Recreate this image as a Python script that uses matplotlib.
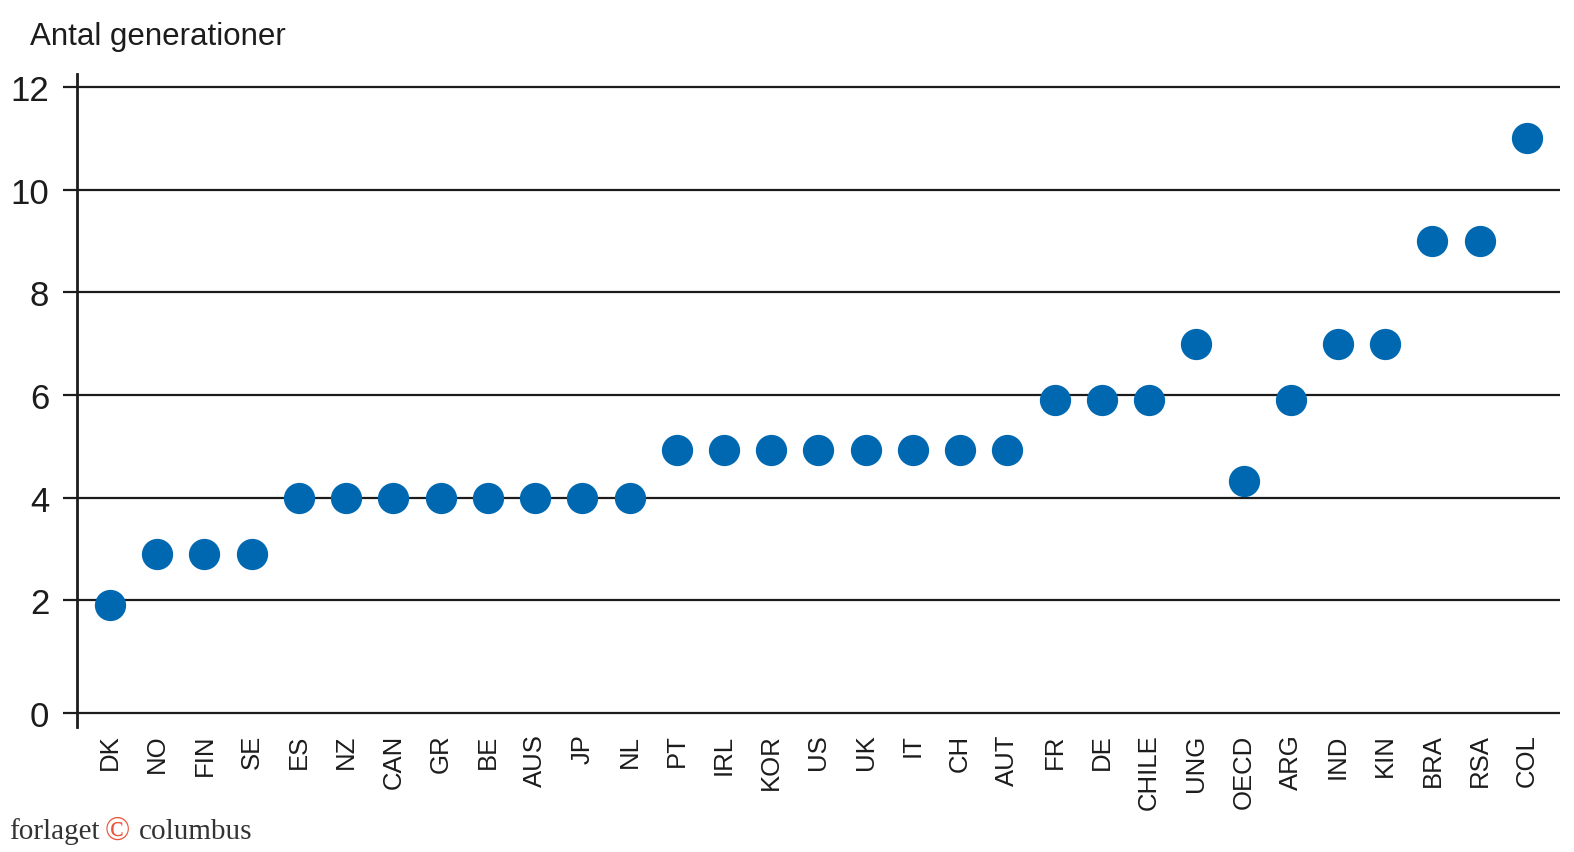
import matplotlib
matplotlib.use('Agg')
import matplotlib.pyplot as plt
import numpy as np

countries = ['DK', 'NO', 'FIN', 'SE', 'ES', 'NZ', 'CAN', 'GR', 'BE', 'AUS', 'JP', 'NL',
             'PT', 'IRL', 'KOR', 'US', 'UK', 'IT', 'CH', 'AUT',
             'FR', 'DE', 'CHILE', 'UNG', 'OECD', 'ARG', 'IND', 'KIN', 'BRA', 'RSA', 'COL']
generations = [1.9, 2.9, 2.9, 2.9, 4.0, 4.0, 4.0, 4.0, 4.0, 4.0, 4.0, 4.0,
               4.93, 4.93, 4.93, 4.93, 4.93, 4.93, 4.93, 4.93,
               5.9, 5.9, 5.9, 7.0, 4.33, 5.9, 7.0, 7.0, 9.0, 9.0, 11.0]
ytick_labels = ['0', '2', '4', '6', '8', '10', '12']

sans = ['Liberation Sans Narrow', 'Liberation Sans', 'DejaVu Sans']
serif = ['Liberation Serif', 'DejaVu Serif']
dot_color = '#0068b1'
line_color = '#1c1c1c'
baseline = -0.2

fig = plt.figure(figsize=(15.74, 8.53), dpi=100)
ax = fig.add_axes([0.0489, 0.147, 0.9422, 0.7656])

x = np.arange(len(countries))
ax.plot(x, generations, 'o', ms=21.5, color=dot_color, zorder=3)

ax.set_xlim(-0.70, len(countries) - 0.3)
ax.set_ylim(-0.46, 12.26)

yt = [baseline] + [float(v) for v in ytick_labels[1:]]
ax.set_yticks(yt)
ax.set_yticklabels(ytick_labels, family=sans, fontsize=25, color=line_color)
ax.grid(axis='y', color=line_color, lw=1.6, zorder=1)
ax.tick_params(axis='y', length=10, width=1.6, color=line_color, pad=10)

ax.set_xticks(x)
ax.set_xticklabels(countries, rotation=90, family=sans, fontsize=18.5, color=line_color)
ax.tick_params(axis='x', length=0, pad=5)

for s in ['top', 'right', 'bottom']:
    ax.spines[s].set_visible(False)
ax.spines['left'].set_linewidth(2)
ax.spines['left'].set_color(line_color)

fig.text(0.019, 0.957, 'Antal generationer', family=sans, fontsize=22.5,
         color=line_color, va='center', ha='left')

fig.text(0.006, 0.016, 'forlaget', family=serif, fontsize=21,
         color='#333333', va='baseline', ha='left')
fig.text(0.0665, 0.016, '\u00a9', family=serif, fontsize=24,
         color='#e8553a', va='baseline', ha='left')
fig.text(0.088, 0.016, 'columbus', family=serif, fontsize=21,
         color='#333333', va='baseline', ha='left')

fig.savefig('out.png', dpi=100, facecolor='white')
